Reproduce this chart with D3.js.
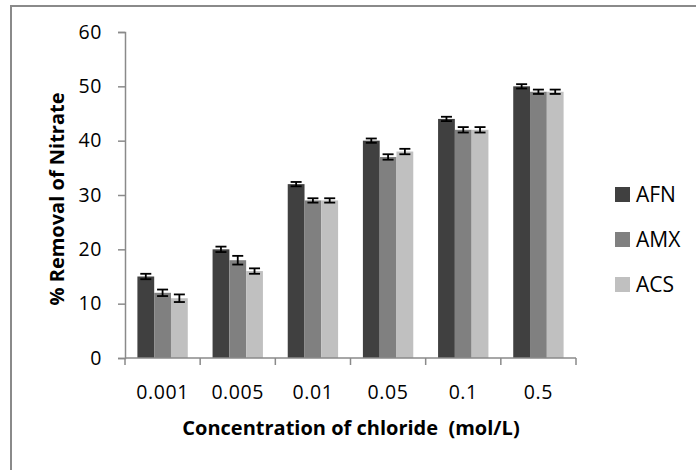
<!DOCTYPE html>
<html>
<head>
<meta charset="utf-8">
<script src="https://cdn.jsdelivr.net/npm/d3@7"></script>
<style>
  html, body { margin: 0; padding: 0; background: #fff; }
  svg { display: block; font-family: "Open Sans", Lato, "Liberation Sans", sans-serif; }
</style>
</head>
<body>
<svg id="chart" width="696" height="470"></svg>
<script>
// Chloride concentrations (mol/L) on the x axis
const categories = ["0.001", "0.005", "0.01", "0.05", "0.1", "0.5"];
const seriesNames = ["AFN", "AMX", "ACS"];
// % nitrate removal for each adsorbent
const afnValues = [15, 20, 32, 40, 44, 50];
const amxValues = [12, 18, 29, 37, 42, 49];
const acsValues = [11, 16, 29, 38, 42, 49];
// standard-error half widths
const afnErrors = [0.5, 0.5, 0.4, 0.4, 0.4, 0.4];
const amxErrors = [0.6, 0.8, 0.4, 0.5, 0.5, 0.4];
const acsErrors = [0.7, 0.5, 0.4, 0.5, 0.5, 0.4];
const yTicks = [0, 10, 20, 30, 40, 50, 60];
const colors = ["#404040", "#808080", "#c0c0c0"];

const series = [
  { name: seriesNames[0], values: afnValues, errors: afnErrors, color: colors[0] },
  { name: seriesNames[1], values: amxValues, errors: amxErrors, color: colors[1] },
  { name: seriesNames[2], values: acsValues, errors: acsErrors, color: colors[2] }
];

const svg = d3.select("#chart");

// outer chart frame (extends beyond the right and bottom edges)
svg.append("rect")
  .attr("x", 11).attr("y", 6)
  .attr("width", 700).attr("height", 480)
  .attr("fill", "#fff")
  .attr("stroke", "#8a8a8a").attr("stroke-width", 2);

const plot = { left: 125, right: 576, top: 32, bottom: 358 };

const x = d3.scaleBand().domain(categories)
  .range([plot.left, plot.right]).paddingInner(0.33).paddingOuter(0.165);
const xs = d3.scaleBand().domain(seriesNames).range([0, x.bandwidth()]);
const y = d3.scaleLinear().domain([0, 60]).range([plot.bottom, plot.top]);

// y axis
const yAxis = svg.append("g")
  .attr("transform", `translate(${plot.left},0)`)
  .call(d3.axisLeft(y).tickValues(yTicks).tickSize(7).tickSizeOuter(7).tickPadding(16));
yAxis.select(".domain").attr("stroke", "#8a8a8a").attr("stroke-width", 1.5);
yAxis.selectAll(".tick line").attr("stroke", "#8a8a8a").attr("stroke-width", 1.5);
yAxis.selectAll(".tick text").attr("font-size", 19.5).attr("fill", "#000")
  .attr("letter-spacing", 0.6)
  .attr("font-family", "'Open Sans', Lato, sans-serif");

// bars
const groups = svg.append("g").selectAll("g")
  .data(series).join("g").attr("fill", d => d.color);

groups.selectAll("rect")
  .data(s => s.values.map((v, i) => ({ s, v, e: s.errors[i], c: categories[i] })))
  .join("rect")
  .attr("x", d => x(d.c) + xs(d.s.name))
  .attr("y", d => y(d.v))
  .attr("width", xs.bandwidth())
  .attr("height", d => y(0) - y(d.v));

// error bars
const capHalf = 5.5;
const eb = svg.append("g").attr("stroke", "#000").attr("stroke-width", 1.8).attr("fill", "none");
series.forEach(s => {
  s.values.forEach((v, i) => {
    const cx = x(categories[i]) + xs(s.name) + xs.bandwidth() / 2;
    const hi = y(v + s.errors[i]), lo = y(v - s.errors[i]);
    eb.append("line").attr("x1", cx).attr("x2", cx).attr("y1", hi).attr("y2", lo);
    eb.append("line").attr("x1", cx - capHalf).attr("x2", cx + capHalf).attr("y1", hi).attr("y2", hi);
    eb.append("line").attr("x1", cx - capHalf).attr("x2", cx + capHalf).attr("y1", lo).attr("y2", lo);
  });
});

// x axis with tick marks on the category boundaries
const xAxisG = svg.append("g").attr("transform", `translate(0,${plot.bottom})`);
xAxisG.append("line")
  .attr("x1", plot.left).attr("x2", plot.right)
  .attr("stroke", "#8a8a8a").attr("stroke-width", 1.5);
const step = x.step();
const boundaries = d3.range(categories.length + 1).map(i => plot.left + i * step);
xAxisG.selectAll("line.tk").data(boundaries).join("line").attr("class", "tk")
  .attr("x1", d => d).attr("x2", d => d).attr("y1", 0).attr("y2", 7)
  .attr("stroke", "#8a8a8a").attr("stroke-width", 1.5);
xAxisG.selectAll("text").data(categories).join("text")
  .attr("x", d => x(d) + x.bandwidth() / 2)
  .attr("y", 41)
  .attr("text-anchor", "middle")
  .attr("font-size", 19.5)
  .attr("letter-spacing", 0.6)
  .text(d => d);

// axis titles
svg.append("text")
  .attr("x", 351).attr("y", 435)
  .attr("text-anchor", "middle")
  .attr("font-size", 20).attr("font-weight", "bold")
  .style("white-space", "pre")
  .text("Concentration of chloride  (mol/L)");

svg.append("text")
  .attr("transform", "translate(64,199) rotate(-90)")
  .attr("text-anchor", "middle")
  .attr("font-size", 20).attr("font-weight", "bold")
  .text("% Removal of Nitrate");

// legend
const legend = svg.append("g").selectAll("g")
  .data(series).join("g")
  .attr("transform", (d, i) => `translate(615,${187 + i * 45})`);
legend.append("rect").attr("width", 15).attr("height", 15).attr("fill", d => d.color);
legend.append("text").attr("x", 21).attr("y", 15).attr("font-size", 21).text(d => d.name);
</script>
</body>
</html>
